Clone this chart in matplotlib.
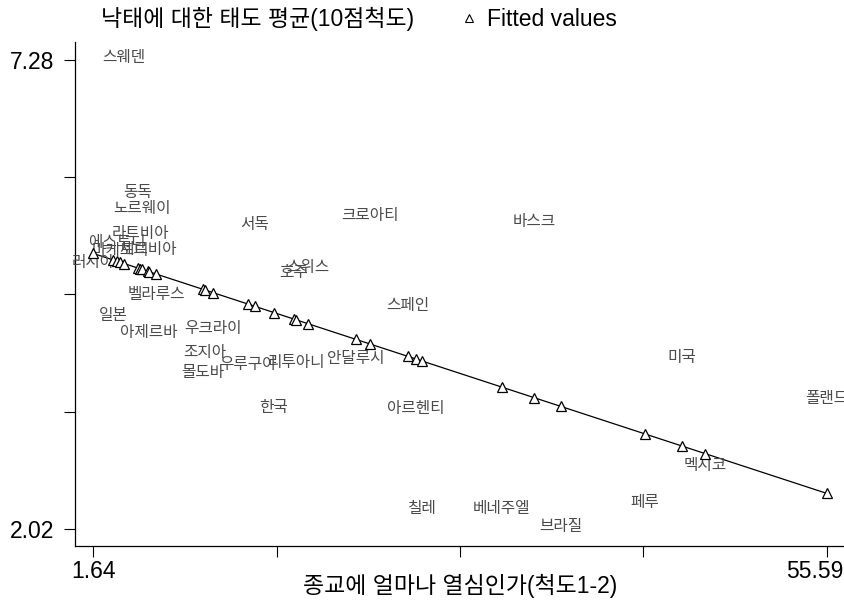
import numpy as np
import matplotlib
matplotlib.use('Agg')
import matplotlib.pyplot as plt
from matplotlib.lines import Line2D
from matplotlib.transforms import ScaledTranslation

plt.rcParams['font.family'] = ['Liberation Sans', 'Noto Sans CJK KR']

# country labels (truncated to 4 chars as in the source)
countries = ['러시아', '일본', '에스토니', '마케도니', '스웨덴', '동독', '라트비아', '노르웨이',
             '세르비아', '아제르바', '벨라루스', '몰도바', '조지아', '우크라이', '우루구아', '서독',
             '한국', '호주', '리투아니', '스위스', '안달루시', '크로아티', '스페인', '아르헨티',
             '칠레', '베네주엘', '바스크', '브라질', '페루', '미국', '멕시코', '폴랜드']
# religiosity (x) and mean abortion attitude (y)
relig = [1.64, 3.09, 3.38, 3.60, 3.90, 4.93, 5.08, 5.22,
         5.66, 5.74, 6.25, 9.71, 9.86, 10.45, 13.02, 13.54,
         14.93, 16.40, 16.55, 17.43, 20.96, 21.99, 24.79, 25.38,
         25.82, 31.70, 34.06, 36.04, 42.23, 44.95, 46.64, 55.59]
abort = [4.98, 4.38, 5.20, 5.11, 7.28, 5.76, 5.30, 5.58,
         5.12, 4.19, 4.62, 3.74, 3.97, 4.24, 3.83, 5.40,
         3.35, 4.87, 3.86, 4.92, 3.90, 5.50, 4.49, 3.34,
         2.22, 2.22, 5.44, 2.02, 2.29, 3.91, 2.70, 3.45]

xticks = [1.64, 15.1275, 28.615, 42.1025, 55.59]
xticklabels = ['1.64', '', '', '', '55.59']
yticks = [2.02, 3.335, 4.65, 5.965, 7.28]
yticklabels = ['2.02', '', '', '', '7.28']

x = np.array(relig)
y = np.array(abort)
b, a = np.polyfit(x, y, 1)
fitted = a + b * x
order = np.argsort(x)

fig = plt.figure(figsize=(8.45, 6.01), dpi=100)
ax = fig.add_axes([0.0888, 0.0915, 0.9112, 0.8386])

for name, xi, yi in zip(countries, relig, abort):
    ax.annotate(name, (xi, yi), xytext=(0, 2.0), textcoords='offset points',
                ha='center', va='center', fontsize=11.3, color='#4a4a4a',
                family=['Noto Sans CJK KR', 'DejaVu Sans'])

ax.plot(x[order], fitted[order], color='black', lw=0.9, zorder=2)
ax.plot(x, fitted, linestyle='none', marker='^', markersize=7.5,
        markerfacecolor='white', markeredgecolor='black', markeredgewidth=0.9, zorder=3)

ax.set_xlim(0.294, 56.94)
ax.set_ylim(1.83, 7.48)
ax.set_xticks(xticks)
ax.set_xticklabels(xticklabels)
ax.set_yticks(yticks)
ax.set_yticklabels(yticklabels)
ax.tick_params(direction='out', length=8, width=0.8, labelsize=16.5, color='black')
ax.tick_params(axis='y', pad=7)
ax.tick_params(axis='x', pad=2)

# last x tick label is pushed left to stay inside the picture
lab = ax.get_xticklabels()[-1]
lab.set_transform(lab.get_transform() + ScaledTranslation(-0.12, 0, fig.dpi_scale_trans))

for s in ['top', 'right']:
    ax.spines[s].set_visible(False)
for s in ['left', 'bottom']:
    ax.spines[s].set_linewidth(0.9)

ax.set_xlabel('종교에 얼마나 열심인가(척도1-2)', fontsize=16.5)
ax.xaxis.set_label_coords(0.5, -0.056)

h1 = Line2D([], [], linestyle='none', marker=None)
h2 = Line2D([], [], linestyle='none', marker='^', markersize=6,
            markerfacecolor='white', markeredgecolor='black', markeredgewidth=0.8)
fig.legend(handles=[h1, h2], labels=['낙태에 대한 태도 평균(10점척도)', 'Fitted values'],
           loc='center left', bbox_to_anchor=(0.065, 0.968), ncol=2, frameon=False,
           fontsize=16.5, handlelength=0.6, handletextpad=0.5, columnspacing=2.1)

fig.savefig('out.png', dpi=100)
